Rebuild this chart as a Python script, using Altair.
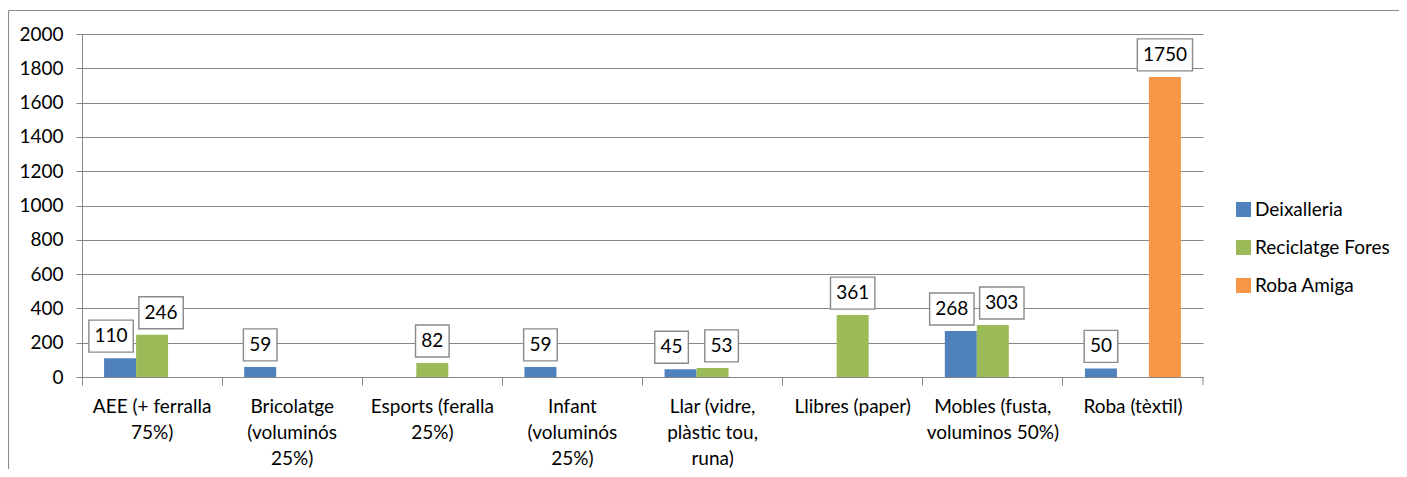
import altair as alt
import pandas as pd

categories = ["AEE (+ ferralla 75%)", "Bricolatge (voluminós 25%)", "Esports (feralla 25%)",
              "Infant (voluminós 25%)", "Llar (vidre, plàstic tou, runa)", "Llibres (paper)",
              "Mobles (fusta, voluminos 50%)", "Roba (tèxtil)"]
category_lines = [["AEE (+ ferralla", "75%)"], ["Bricolatge", "(voluminós", "25%)"],
                  ["Esports (feralla", "25%)"], ["Infant", "(voluminós", "25%)"],
                  ["Llar (vidre,", "plàstic tou,", "runa)"], ["Llibres (paper)"],
                  ["Mobles (fusta,", "voluminos 50%)"], ["Roba (tèxtil)"]]
series = ["Deixalleria", "Reciclatge Fores", "Roba Amiga"]
deixalleria = [110, 59, None, 59, 45, None, 268, 50]
reciclatge = [246, None, 82, None, 53, 361, 303, None]
roba_amiga = [None, None, None, None, None, None, None, 1750]
colors = ["#4F81BD", "#9BBB59", "#F79646"]
y_ticks = list(range(0, 2001, 200))

rows = []
for s, vals in zip(series, [deixalleria, reciclatge, roba_amiga]):
    for c, v in zip(categories, vals):
        if v is not None:
            rows.append({"category": c, "series": s, "value": v})
df = pd.DataFrame(rows)

FONT = "Lato"
FS = 19
GRID = "#868686"
W, H = 1121, 343

label_expr = ""
for c, lines in zip(categories, category_lines):
    arr = "[" + ",".join("'" + l + "'" for l in lines) + "]"
    label_expr += f"datum.label == '{c}' ? {arr} : "
label_expr += "datum.label"

x_enc = alt.X("category:N", sort=categories,
              scale=alt.Scale(paddingInner=0, paddingOuter=0),
              axis=alt.Axis(title=None, labelAngle=0, labelExpr=label_expr, bandPosition=0,
                            tickSize=8, tickColor=GRID, domainColor=GRID, labelFont=FONT,
                            labelFontSize=FS, labelColor="black", labelLineHeight=26,
                            labelPadding=12, labelBaseline="top", grid=False))
xo_enc = alt.XOffset("series:N", sort=series,
                     scale=alt.Scale(domain=series, paddingInner=0, paddingOuter=0.69))
y_enc = alt.Y("value:Q", scale=alt.Scale(domain=[0, 2000], nice=False),
              axis=alt.Axis(title=None, values=y_ticks, format="d", labelOverlap=False,
                            tickCount=len(y_ticks) + 1, grid=True, gridColor=GRID,
                            tickColor=GRID, domainColor=GRID, tickSize=6, labelFont=FONT,
                            labelFontSize=FS, labelColor="black", labelPadding=13))

base = alt.Chart(df)

bars = base.mark_bar().encode(
    x=x_enc, xOffset=xo_enc, y=y_enc,
    color=alt.Color("series:N", sort=series,
                    scale=alt.Scale(domain=series, range=colors),
                    legend=alt.Legend(title=None, orient="none", legendX=1152, legendY=166,
                                      symbolType="square", symbolSize=225, labelFont=FONT,
                                      labelFontSize=FS, labelColor="black", rowPadding=18,
                                      labelOffset=2, padding=0, symbolStrokeWidth=0)),
)

lab = base.transform_calculate(
    isdr="datum.series == 'Deixalleria' || datum.series == 'Reciclatge Fores' ? 1 : 0"
).transform_joinaggregate(
    ndr="sum(isdr)", groupby=["category"]
).transform_calculate(
    shift="datum.ndr == 2 ? (datum.series == 'Deixalleria' ? -9 : 9) : 0",
    label="'' + datum.value",
).transform_calculate(
    hw="(10.8 * length(datum.label) + 12) / 2"
).transform_calculate(
    boxpath="'M' + ((datum.shift - datum.hw) / 16) + ',-2.375H' + ((datum.shift + datum.hw) / 16) + 'V-0.375H' + ((datum.shift - datum.hw) / 16) + 'Z'"
)

boxes = lab.mark_point(filled=True, fill="white", stroke="#8a8a8a", strokeWidth=1.4,
                       size=1024, opacity=1).encode(
    x=x_enc, xOffset=xo_enc,
    y=y_enc, shape=alt.Shape("boxpath:N", scale=None),
)

texts = lab.mark_text(font=FONT, fontSize=FS, color="black", baseline="middle",
                      align="center", dy=-22, dx=alt.ExprRef("datum.shift")).encode(
    x=x_enc, xOffset=xo_enc,
    y=y_enc, text="label:N",
)

one = alt.Data(values=[{"k": 1}])
end_tick = alt.Chart(one).mark_rule(color=GRID).encode(
    x=alt.value(W), y=alt.value(H), y2=alt.value(H + 8))
border_top = alt.Chart(one).mark_rule(color="#8c8c8c", strokeWidth=1.2).encode(
    x=alt.value(-73.5), x2=alt.value(1330), y=alt.value(-23.5))
border_left = alt.Chart(one).mark_rule(color="#8c8c8c", strokeWidth=1.2).encode(
    x=alt.value(-73.5), y=alt.value(-23.5), y2=alt.value(450))

chart = alt.layer(bars, boxes, texts, end_tick, border_top, border_left).properties(
    width=W, height=H,
    autosize=alt.AutoSizeParams(type="none"),
    padding={"left": 74, "top": 26, "right": 196, "bottom": 92},
).configure_view(stroke=None).configure_scale(bandPaddingInner=0)

chart.save("out.html", embed_options={"renderer": "svg", "actions": False})
